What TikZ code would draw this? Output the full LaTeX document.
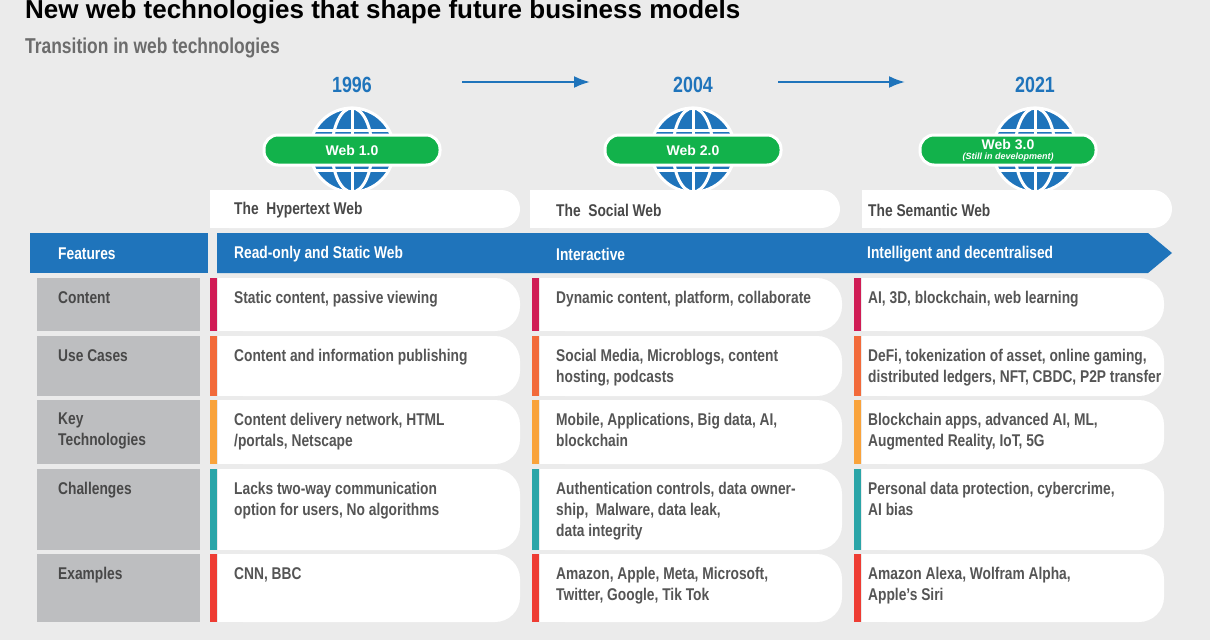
\documentclass[tikz,border=0pt]{standalone}
\usepackage{fontspec}
\setmainfont{Liberation Sans}[FakeStretch=0.81]
\newfontfamily\tfont{Liberation Sans}
\usetikzlibrary{shapes.geometric,arrows.meta}
\definecolor{bg}{HTML}{EBEBEB}
\definecolor{txt}{HTML}{555555}
\definecolor{wblue}{HTML}{1F74BB}
\definecolor{wgreen}{HTML}{12B24B}
\definecolor{lab}{HTML}{BDBEC0}
\definecolor{cA}{HTML}{D01C55}
\definecolor{cB}{HTML}{F26A3A}
\definecolor{cC}{HTML}{F9A33B}
\definecolor{cD}{HTML}{2AA5A8}
\definecolor{cE}{HTML}{EE3C33}
\tikzset{
  cell/.style={fill=white},
  ctext/.style={anchor=north west,text=txt,font=\bfseries\fontsize{17}{21}\selectfont,align=left,inner sep=0pt},
  ltext/.style={anchor=north west,text=txt!85!black,font=\bfseries\fontsize{17}{21}\selectfont,align=left,inner sep=0pt},
  btext/.style={anchor=west,text=white,font=\bfseries\fontsize{17}{17}\selectfont,inner sep=0pt},
  year/.style={text=wblue,font=\bfseries\fontsize{22}{22}\selectfont},
  pill/.style={fill=wgreen,draw=white,line width=3pt,rounded corners=14pt,minimum width=176pt,minimum height=30pt,text=white,font=\tfont\bfseries\fontsize{14}{14}\selectfont,align=center,inner sep=0pt},
  tarrow/.style={wblue,line width=2.2pt,-{Latex[length=16pt,width=12pt]}}
}
\newcommand{\globe}[1]{%
  \begin{scope}[shift={(#1,150)}]
    \fill[wblue] (0,0) circle (42);
    \draw[white,line width=3pt] (0,0) circle (42);
    \draw[white,line width=3pt] (0,-42) -- (0,42);
    \draw[white,line width=3pt] (0,0) ellipse (20 and 42);
    \draw[white,line width=3pt] (-42,0) -- (42,0);
    \draw[white,line width=3pt] (-38,-20) -- (38,-20) (-38,20) -- (38,20);
  \end{scope}}
\newcommand{\cellbox}[6]{% x, ytop, ybot, colour, text, textoffset
  \fill[#4] (#1,#2) rectangle (#1+7,#3);
  \fill[cell,rounded corners=25pt] (#1+8,#2) rectangle (#1+310,#3);
  \fill[cell] (#1+8,#2) rectangle (#1+100,#3);
  \node[ctext] at (#1+#6,#2+13) {#5};}
\begin{document}
\begin{tikzpicture}[x=1pt,y=-1pt]
\fill[bg] (0,0) rectangle (1210,640);
\useasboundingbox (0,0) rectangle (1210,640);
\node[anchor=west,font=\tfont\bfseries\fontsize{26}{26}\selectfont,inner sep=0pt] (title) at (25,12) {New web technologies that shape future business models};
\node[anchor=west,text=gray!85!black,font=\bfseries\fontsize{21.5}{20}\selectfont,inner sep=0pt] (sub) at (25,48) {Transition in web technologies};
\node[year] (y1) at (352,85) {1996};
\node[year] (y2) at (693,85) {2004};
\node[year] (y3) at (1035,85) {2021};
\coordinate (a1s) at (462,82); \coordinate (a1e) at (590,82);
\coordinate (a2s) at (778,82); \coordinate (a2e) at (905,82);
\draw[tarrow] (a1s) -- (a1e);
\draw[tarrow] (a2s) -- (a2e);
\foreach \x/\o/\t in {210/24/The\ \ Hypertext Web,530/26/The\ \ Social Web,862/6/The Semantic Web}{
  \fill[white,rounded corners=19pt] (\x,190) rectangle (\x+310,228);
  \fill[white] (\x,190) rectangle (\x+100,228);
  \node[ltext,anchor=west] at (\x+\o,210) {\t};}
\globe{352}\globe{693}\globe{1035}
\node[pill] (w1) at (352,150) {Web 1.0};
\node[pill] (w2) at (693,150) {Web 2.0};
\node[pill,font=\tfont\bfseries\fontsize{14}{11}\selectfont] (w3) at (1008,150) {Web 3.0\\[-1pt]{\itshape\fontsize{9}{9}\selectfont (Still in development)}};
\fill[wblue] (30,233) rectangle (208,273);
\fill[wblue] (217,233) -- (1148,233) -- (1172,253) -- (1148,273) -- (217,273) -- cycle;
\node[btext] at (58,254) {Features};
\node[btext] at (234,254) {Read-only and Static Web};
\node[btext] at (556,254) {Interactive};
\node[btext] at (867,254) {Intelligent and decentralised};
\newcommand{\row}[7]{%
  \fill[lab] (37,#1) rectangle (200,#2);
  \node[ltext] at (58,#1+13) {#4};
  \cellbox{210}{#1}{#2}{#3}{#5}{24}
  \cellbox{532}{#1}{#2}{#3}{#6}{24}
  \cellbox{854}{#1}{#2}{#3}{#7}{14}}
\row{278}{331}{cA}{Content}{Static content, passive viewing}{Dynamic content, platform, collaborate}{AI, 3D, blockchain, web learning}
\row{336}{396}{cB}{Use Cases}{Content and information publishing}{Social Media, Microblogs, content\\hosting, podcasts}{DeFi, tokenization of asset, online gaming,\\distributed ledgers, NFT, CBDC, P2P transfer}
\row{400}{464}{cC}{Key\\Technologies}{Content delivery network, HTML\\/portals, Netscape}{Mobile, Applications, Big data, AI,\\blockchain}{Blockchain apps, advanced AI, ML,\\Augmented Reality, IoT, 5G}
\row{469}{550}{cD}{Challenges}{Lacks two-way communication\\option for users, No algorithms}{Authentication controls, data owner-\\ship,\ \ Malware, data leak,\\data integrity}{Personal data protection, cybercrime,\\AI bias}
\row{554}{622}{cE}{Examples}{CNN, BBC}{Amazon, Apple, Meta, Microsoft,\\Twitter, Google, Tik Tok}{Amazon Alexa, Wolfram Alpha,\\Apple's Siri}
\end{tikzpicture}
\end{document}
